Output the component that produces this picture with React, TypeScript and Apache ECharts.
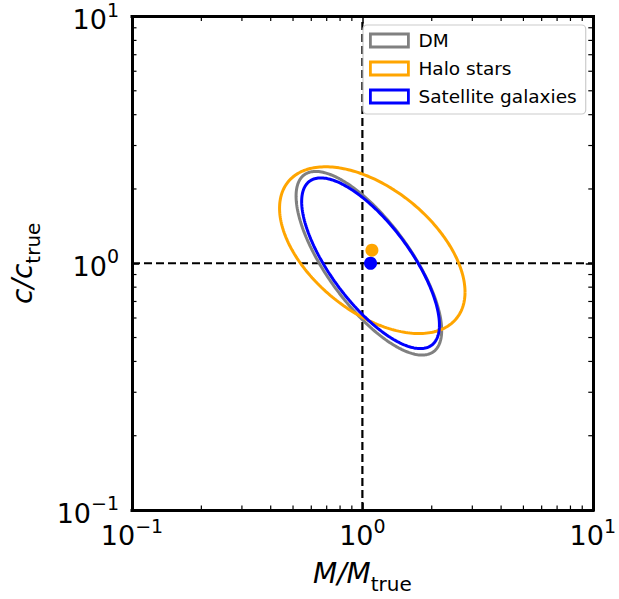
import React, { useEffect, useRef } from "react";
import * as echarts from "echarts";

// Error ellipses in log10 space: centre (M/M_true, c/c_true), half-width along log M,
// log c offset at the M extremes, and the remaining log c half-axis.
const ellipseNames = ["DM", "Halo stars", "Satellite galaxies"];
const ellipseColors = ["#808080", "#FFA500", "#0000FF"];
const centerM = [1.067, 1.104, 1.085];
const centerC = [1.0, 1.13, 1.0];
const logHalfWidthM = [0.316, 0.4025, 0.299];
const logTiltC = [-0.272, -0.17, -0.25];
const logHalfWidthC = [0.254, 0.292, 0.239];

// Best-fit points
const pointNames = ["Halo stars", "Satellite galaxies"];
const pointM = [1.1, 1.085];
const pointC = [1.13, 1.0];
const pointColors = ["#FFA500", "#0000FF"];

// Axis range, reference lines and minor tick positions
const axisMin = 0.1;
const axisMax = 10;
const refValue = 1;
const minorTicks = [0.2, 0.3, 0.4, 0.5, 0.6, 0.7, 0.8, 0.9, 2, 3, 4, 5, 6, 7, 8, 9];

const FONT = '"DejaVu Sans", sans-serif';

function ellipsePoints(i: number): number[][] {
  const n = 240;
  const lx0 = Math.log10(centerM[i]);
  const ly0 = Math.log10(centerC[i]);
  const pts: number[][] = [];
  for (let k = 0; k <= n; k++) {
    const t = (2 * Math.PI * k) / n;
    const lx = lx0 + logHalfWidthM[i] * Math.cos(t);
    const ly = ly0 + logTiltC[i] * Math.cos(t) + logHalfWidthC[i] * Math.sin(t);
    pts.push([Math.pow(10, lx), Math.pow(10, ly)]);
  }
  return pts;
}

const expLabel = (v: number) => {
  const e = Math.round(Math.log10(v));
  const s = e < 0 ? "\u2212" + Math.abs(e) : String(e);
  return `{b|10}{s|${s}}`;
};

const tickRich = {
  b: { fontSize: 27, fontFamily: FONT, color: "#000", verticalAlign: "bottom", padding: [6, 0, 0, 0] },
  s: { fontSize: 19, fontFamily: FONT, color: "#000", verticalAlign: "top" },
};

const nameRich = {
  i: { fontSize: 28, fontFamily: FONT, fontStyle: "italic", color: "#000", verticalAlign: "top", padding: [0, 0, 7, 0] },
  sub: { fontSize: 20, fontFamily: FONT, color: "#000", verticalAlign: "bottom" },
};

const frameLine = { show: true, onZero: false, lineStyle: { color: "#000", width: 3, cap: "square" } };
const majorTick = { show: true, inside: true, length: 7, lineStyle: { color: "#000", width: 1.5 } };

export default function App() {
  const ref = useRef<HTMLDivElement>(null);

  useEffect(() => {
    if (!ref.current) return;
    const chart = echarts.init(ref.current, undefined, { renderer: "svg" });

    const ellipseSeries = ellipseNames.map((name, i) => ({
      name,
      type: "line",
      data: ellipsePoints(i),
      showSymbol: false,
      symbol: "none",
      smooth: false,
      lineStyle: { color: ellipseColors[i], width: 3 },
      itemStyle: { color: ellipseColors[i] },
      z: 3 + i,
      silent: true,
    }));

    const pointSeries = pointNames.map((name, i) => ({
      name: name + " best fit",
      type: "scatter",
      data: [[pointM[i], pointC[i]]],
      symbol: "circle",
      symbolSize: 13,
      itemStyle: { color: pointColors[i], opacity: 1 },
      z: 10 + i,
      silent: true,
    }));

    const tickSeries = (horizontal: boolean) => ({
      type: "custom",
      silent: true,
      z: 20,
      clip: false,
      data: minorTicks.map((v) => (horizontal ? [v, refValue] : [refValue, v])),
      renderItem: (params: any, api: any) => {
        const cs = params.coordSys;
        const len = 4.5;
        const style = { stroke: "#000", lineWidth: 1.2 };
        if (horizontal) {
          const x = api.coord([api.value(0), refValue])[0];
          return {
            type: "group",
            children: [
              { type: "line", shape: { x1: x, y1: cs.y + cs.height, x2: x, y2: cs.y + cs.height - len }, style },
              { type: "line", shape: { x1: x, y1: cs.y, x2: x, y2: cs.y + len }, style },
            ],
          };
        }
        const y = api.coord([refValue, api.value(1)])[1];
        return {
          type: "group",
          children: [
            { type: "line", shape: { x1: cs.x, y1: y, x2: cs.x + len, y2: y }, style },
            { type: "line", shape: { x1: cs.x + cs.width, y1: y, x2: cs.x + cs.width - len, y2: y }, style },
          ],
        };
      },
    });

    chart.setOption({
      animation: false,
      backgroundColor: "#fff",
      grid: { left: 122, right: 22.5, top: 15, bottom: 83, containLabel: false },
      legend: {
        show: true,
        orient: "vertical",
        left: 363,
        top: 25,
        icon: "rect",
        itemWidth: 38,
        itemHeight: 13,
        itemGap: 9,
        padding: [6, 9, 8, 6],
        backgroundColor: "rgba(255,255,255,0.8)",
        borderColor: "#cccccc",
        borderWidth: 1.2,
        borderRadius: 4,
        textStyle: { fontFamily: FONT, fontSize: 18.5, color: "#000", lineHeight: 18, padding: [0, 0, 0, 5] },
        data: ellipseNames.map((name, i) => ({
          name,
          icon: "rect",
          itemStyle: { color: "rgba(0,0,0,0)", borderColor: ellipseColors[i], borderWidth: 2.8 },
        })),
      },
      xAxis: [
        {
          type: "log",
          logBase: 10,
          min: axisMin,
          max: axisMax,
          position: "bottom",
          axisLine: frameLine,
          axisTick: majorTick,
          splitLine: { show: false },
          axisLabel: { show: true, formatter: expLabel, rich: tickRich, margin: 6 },
          name: "{i|M/M}{sub|true}",
          nameLocation: "middle",
          nameGap: 49,
          nameTextStyle: { rich: nameRich },
        },
        {
          type: "log",
          logBase: 10,
          min: axisMin,
          max: axisMax,
          position: "top",
          axisLine: frameLine,
          axisTick: majorTick,
          splitLine: { show: false },
          axisLabel: { show: false },
        },
      ],
      yAxis: [
        {
          type: "log",
          logBase: 10,
          min: axisMin,
          max: axisMax,
          position: "left",
          axisLine: frameLine,
          axisTick: majorTick,
          splitLine: { show: false },
          axisLabel: { show: true, formatter: expLabel, rich: tickRich, margin: 13 },
          name: "{i|c/c}{sub|true}",
          nameLocation: "middle",
          nameRotate: 90,
          nameGap: 89,
          nameTextStyle: { rich: nameRich },
        },
        {
          type: "log",
          logBase: 10,
          min: axisMin,
          max: axisMax,
          position: "right",
          axisLine: frameLine,
          axisTick: majorTick,
          splitLine: { show: false },
          axisLabel: { show: false },
        },
      ],
      series: [
        {
          name: "ref-v",
          type: "line",
          data: [[refValue, axisMin], [refValue, axisMax]],
          symbol: "none",
          lineStyle: { color: "#000", width: 2.2, type: [8, 4] },
          z: 1,
          silent: true,
        },
        {
          name: "ref-h",
          type: "line",
          data: [[axisMin, refValue], [axisMax, refValue]],
          symbol: "none",
          lineStyle: { color: "#000", width: 2.2, type: [8, 4] },
          z: 1,
          silent: true,
        },
        ...ellipseSeries,
        ...pointSeries,
        tickSeries(true),
        tickSeries(false),
      ],
    });

    return () => chart.dispose();
  }, []);

  return <div ref={ref} style={{ position: "fixed", left: 0, top: 0, width: 619, height: 599 }} />;
}
